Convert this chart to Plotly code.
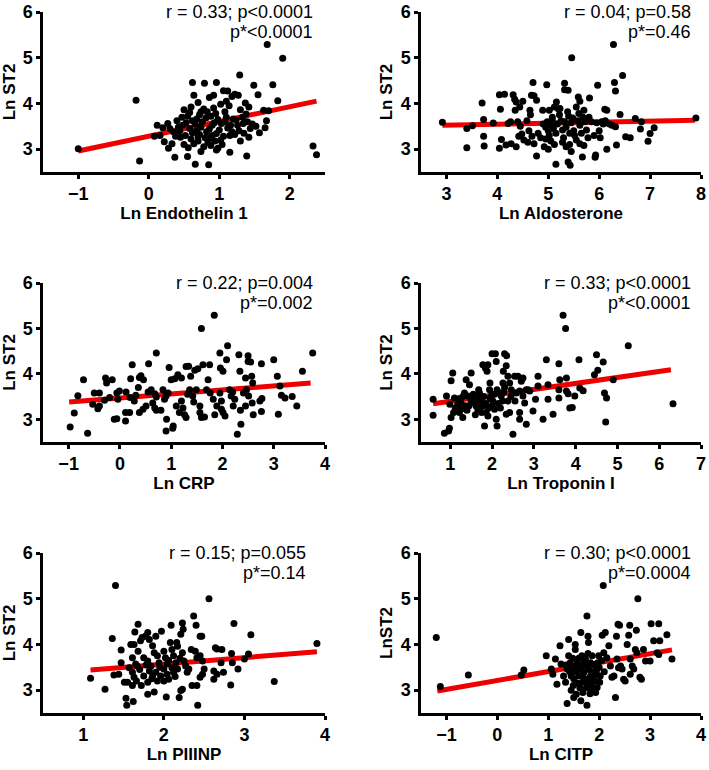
import plotly.graph_objects as go

# ---- data (x, y) ----
endothelin_pts = [
    (-1.0, 3.01), (-0.18, 4.07), (-0.13, 2.74), (1.68, 5.29), (1.90, 4.99), (2.33, 3.07), (2.38, 2.88),
    (1.83, 4.06), (1.76, 4.41), (1.29, 4.62),
    (0.62, 4.46), (0.79, 4.44), (0.96, 4.46), (1.49, 4.40), (1.55, 4.19), (1.06, 4.28), (1.12, 4.27),
    (0.86, 4.13), (0.92, 4.18), (1.18, 4.15), (1.22, 4.20), (1.27, 4.18), (0.70, 4.02), (0.50, 3.86),
    (0.60, 3.92), (1.02, 3.98), (1.14, 3.95), (1.37, 4.01), (1.42, 3.92), (1.63, 3.85), (1.70, 3.84),
    (0.78, 3.88), (0.83, 3.82), (1.30, 3.86),
    (0.12, 3.52), (0.20, 3.47), (0.27, 3.56), (0.35, 3.38), (0.42, 3.48), (0.47, 3.70), (0.55, 3.72),
    (0.62, 3.62), (0.66, 3.55), (0.72, 3.75), (0.76, 3.60), (0.81, 3.68), (0.88, 3.72), (0.93, 3.58),
    (0.98, 3.65), (1.03, 3.56), (1.08, 3.60), (1.10, 3.70), (1.16, 3.52), (1.20, 3.66), (1.24, 3.64),
    (1.33, 3.70), (1.38, 3.77), (1.44, 3.45), (1.47, 3.55), (1.52, 3.50), (1.67, 3.62), (1.65, 3.47),
    (0.58, 3.45), (0.68, 3.40), (0.74, 3.48), (0.86, 3.44), (0.90, 3.52), (1.00, 3.42), (1.12, 3.46),
    (1.28, 3.40), (0.40, 3.62), (0.30, 3.45), (0.53, 3.58), (0.95, 3.78), (1.40, 3.60),
    (0.08, 3.28), (0.16, 3.30), (0.22, 3.16), (0.28, 3.02), (0.33, 3.12), (0.38, 3.28), (0.45, 3.26),
    (0.50, 3.10), (0.52, 3.30), (0.56, 3.03), (0.60, 3.22), (0.64, 3.12), (0.70, 3.18), (0.72, 3.32),
    (0.78, 3.05), (0.80, 3.25), (0.84, 3.15), (0.88, 3.08), (0.90, 3.30), (0.94, 3.18), (0.98, 3.02),
    (1.04, 3.10), (1.06, 3.28), (1.15, 3.30), (1.22, 3.32), (1.30, 3.18), (1.35, 3.35), (1.42, 3.26),
    (1.57, 3.36), (0.37, 2.82), (0.55, 2.84), (0.66, 2.67), (0.85, 2.66), (1.15, 2.93), (1.39, 2.85),
    (0.74, 2.95), (0.96, 2.98), (0.62, 3.36), (0.82, 3.38), (0.96, 3.34), (1.18, 3.38), (0.44, 3.40),
    (1.26, 3.52), (0.68, 3.66), (1.34, 3.56),
    (0.58, 3.80), (0.74, 3.82), (0.92, 3.90), (1.08, 3.82), (0.70, 3.28), (0.86, 3.24), (1.02, 3.20),
    (0.48, 3.52), (1.10, 4.05), (0.64, 4.18),
]
endothelin_fit = [(-1.0, 2.96), (2.38, 4.05)]
endothelin_stats = ["r = 0.33; p<0.0001", "p*<0.0001"]

aldosterone_pts = [
    (2.92, 3.59), (3.40, 3.45), (3.51, 3.51), (3.40, 3.03), (3.70, 4.01), (3.73, 3.65), (3.73, 3.28),
    (3.74, 3.07), (3.92, 3.57), (4.04, 4.19), (4.14, 4.20), (4.06, 3.87), (4.08, 3.21), (4.04, 3.02),
    (4.17, 3.09), (4.21, 3.56), (4.26, 3.60), (4.31, 4.19), (4.34, 4.09), (4.37, 4.03), (4.35, 3.85),
    (4.44, 3.92), (4.50, 4.05), (4.27, 3.12), (4.37, 3.05), (4.42, 3.28), (4.48, 3.33), (4.52, 3.20),
    (4.45, 3.50), (4.58, 3.62), (4.40, 3.60), (4.70, 4.46), (4.67, 4.18), (4.72, 4.17), (4.77, 4.07),
    (4.64, 3.85), (4.65, 3.75), (4.97, 4.41), (4.89, 3.85), (4.77, 2.85), (4.62, 3.40), (4.68, 3.28),
    (4.72, 3.12), (4.80, 3.35), (4.85, 3.25), (4.60, 3.15),
    (4.90, 3.55), (4.95, 3.48), (4.98, 3.60), (5.00, 3.40), (5.02, 3.30), (5.05, 3.52), (5.08, 3.62),
    (5.10, 3.45), (5.05, 3.18), (4.95, 3.22), (4.92, 3.05), (5.00, 3.00), (5.12, 3.10), (5.15, 3.35),
    (5.18, 3.55), (5.20, 3.88), (5.22, 3.75), (5.12, 3.92), (5.02, 3.85), (5.08, 3.70), (5.25, 3.62),
    (5.28, 3.42), (5.30, 3.25), (5.32, 3.60), (5.35, 3.48), (5.38, 3.82), (5.40, 3.72), (5.42, 3.35),
    (5.45, 3.58), (5.48, 3.68), (5.50, 3.40), (5.52, 3.30), (5.55, 3.92), (5.58, 3.62), (5.60, 3.78),
    (5.62, 3.52), (5.65, 3.35), (5.68, 3.70), (5.70, 3.85), (5.72, 3.60), (5.75, 3.42), (5.78, 3.25),
    (5.80, 3.70), (5.42, 3.10), (5.45, 2.95), (5.55, 3.20), (5.62, 3.12), (5.70, 3.08), (5.35, 3.05),
    (5.28, 3.15),
    (5.32, 4.44), (5.32, 4.30), (5.39, 4.29), (5.46, 5.00), (5.16, 4.03), (5.23, 3.89), (5.15, 2.67),
    (5.39, 2.72), (5.43, 2.65), (5.59, 4.14), (5.62, 4.05), (5.81, 4.12), (5.97, 4.40), (5.67, 2.83),
    (5.93, 2.87), (5.92, 2.82), (5.85, 3.60), (5.90, 3.30), (5.95, 3.58), (6.02, 3.25), (6.05, 3.60),
    (6.08, 3.55), (6.12, 3.62), (6.00, 3.40), (6.20, 3.55), (6.25, 3.52),
    (6.28, 5.29), (6.30, 4.46), (6.32, 4.27), (6.46, 4.61), (6.11, 3.87), (6.15, 3.85), (6.41, 3.76),
    (6.32, 3.49), (6.34, 3.09), (6.15, 3.00), (6.52, 3.27), (6.61, 3.25), (6.71, 3.67), (6.83, 3.60),
    (6.81, 3.44), (6.96, 3.17), (7.00, 3.34), (7.08, 3.47), (7.90, 3.68),
]
aldosterone_fit = [(2.92, 3.52), (7.88, 3.63)]
aldosterone_stats = ["r = 0.04; p=0.58", "p*=0.46"]

crp_pts = [
    (-0.97, 2.83), (-0.89, 3.14), (-0.82, 3.52), (-0.71, 3.87), (-0.63, 2.69), (-0.53, 3.33),
    (-0.50, 3.58), (-0.40, 3.58), (-0.43, 3.23), (-0.40, 3.29), (-0.28, 3.91), (-0.26, 3.80),
    (-0.30, 3.42), (-0.15, 3.87), (-0.11, 3.00), (-0.06, 3.01), (-0.04, 3.44), (-0.01, 3.62),
    (-0.06, 3.58), (0.11, 2.96), (0.11, 3.15), (0.19, 3.15), (0.21, 3.89), (0.24, 4.20), (0.28, 3.40),
    (0.31, 3.53), (0.38, 3.92), (0.41, 3.96), (0.46, 3.87), (0.36, 3.70), (0.38, 3.15), (0.45, 3.22),
    (0.51, 3.29), (0.56, 4.22), (0.71, 4.46), (0.55, 3.60), (0.61, 3.65), (0.68, 3.56), (0.71, 3.49),
    (0.64, 3.36), (0.68, 3.25), (0.71, 3.20), (0.84, 3.65), (0.87, 3.44), (0.90, 3.51), (0.94, 3.58),
    (0.96, 4.14), (1.00, 3.87), (0.90, 2.74), (0.91, 3.00), (1.03, 2.80), (1.04, 2.85), (1.07, 3.89),
    (1.13, 3.98), (1.20, 3.91), (1.10, 3.29), (1.16, 3.15), (1.23, 3.25), (1.26, 3.10), (1.29, 3.04),
    (1.29, 4.16), (1.34, 4.17), (1.38, 3.95), (1.36, 3.65), (1.42, 3.51), (1.49, 3.65), (1.46, 4.08),
    (1.52, 4.11), (1.56, 3.15), (1.59, 3.04), (1.56, 3.29), (1.62, 4.20), (1.59, 5.00), (1.69, 3.65),
    (1.76, 3.58), (1.82, 3.44), (1.89, 3.29), (1.72, 3.87), (1.75, 4.20), (1.84, 5.29), (1.95, 4.46),
    (1.96, 4.13), (2.01, 4.06), (2.10, 4.62), (2.08, 4.31), (1.95, 3.58), (1.98, 3.40), (2.01, 3.15),
    (1.98, 3.22), (2.05, 3.07), (2.14, 3.65), (2.17, 3.51), (2.21, 3.29), (2.24, 3.44), (2.32, 4.42),
    (2.34, 4.06), (2.36, 2.89), (2.29, 2.67), (2.50, 4.40), (2.50, 4.27), (2.55, 4.26), (2.45, 3.91),
    (2.47, 3.65), (2.41, 3.58), (2.51, 3.51), (2.58, 3.36), (2.45, 3.29), (2.57, 3.95), (2.59, 3.80),
    (2.76, 4.22), (2.77, 3.46), (2.73, 3.40), (2.76, 3.17), (3.00, 4.31), (3.07, 3.95), (3.12, 3.73),
    (3.09, 3.11), (3.15, 3.53), (3.22, 3.47), (3.36, 3.50), (3.45, 3.29), (3.56, 4.06), (3.76, 4.46),
    (1.20, 3.40), (1.32, 3.55), (1.44, 3.38), (0.20, 3.48), (0.12, 3.60), (-0.20, 3.48), (0.80, 3.20),
    (2.20, 3.60), (2.35, 3.20), (2.60, 3.10), (1.65, 3.05), (1.85, 3.10),
]
crp_fit = [(-0.99, 3.38), (3.72, 3.80)]
crp_stats = ["r = 0.22; p=0.004", "p*=0.002"]

troponin_pts = [
    (0.59, 3.44), (0.59, 3.09), (0.86, 2.69), (0.96, 2.74), (0.98, 2.80), (0.91, 3.51), (1.06, 4.02),
    (1.02, 3.85), (0.99, 3.33), (1.02, 3.04), (1.08, 3.15), (1.10, 3.47), (1.18, 3.33), (1.22, 3.15),
    (1.26, 3.22), (1.30, 3.04), (1.38, 3.87), (1.46, 3.76), (1.50, 4.02), (1.34, 3.58), (1.42, 3.51),
    (1.54, 3.47), (1.58, 3.36), (1.62, 3.29), (1.66, 3.22), (1.70, 3.58), (1.74, 3.40), (1.78, 4.20),
    (1.84, 4.13), (1.90, 4.20), (1.88, 4.06), (1.78, 3.29), (1.86, 3.15), (1.90, 3.07), (1.82, 2.85),
    (1.94, 3.65), (1.98, 3.51), (2.02, 3.40), (1.95, 3.80), (2.00, 4.44), (2.08, 4.44), (2.10, 4.27),
    (2.06, 3.22), (2.10, 3.00), (2.12, 2.85), (2.18, 3.58), (2.22, 3.51), (2.26, 3.80), (2.27, 4.06),
    (2.30, 4.44), (2.35, 4.40), (2.34, 4.18), (2.38, 3.95), (2.42, 3.80), (2.46, 3.65), (2.38, 3.40),
    (2.34, 3.11), (2.42, 3.15), (2.50, 2.67), (2.54, 3.95), (2.62, 3.95), (2.70, 3.84), (2.74, 3.91),
    (2.58, 3.58), (2.66, 3.62), (2.74, 3.51), (2.78, 3.36), (2.66, 3.15), (2.66, 3.00), (2.82, 3.65),
    (2.86, 3.65), (2.90, 3.62), (2.82, 2.89), (2.98, 3.18), (3.04, 3.44), (3.10, 3.95), (3.10, 3.73),
    (3.30, 4.31), (3.34, 3.44), (3.34, 3.76), (3.22, 3.00), (3.46, 3.11), (3.60, 4.22), (3.62, 3.87),
    (3.60, 3.47), (3.60, 3.65), (3.70, 5.29), (3.76, 5.00), (3.78, 3.91), (3.78, 3.62), (3.82, 3.56),
    (3.86, 3.25), (3.92, 3.26), (3.98, 3.51), (4.08, 4.31), (4.10, 3.69), (4.18, 3.63), (4.45, 3.98),
    (4.50, 4.42), (4.53, 4.08), (4.66, 4.26), (4.69, 3.58), (4.74, 3.47), (4.72, 2.94), (4.90, 3.87),
    (5.26, 4.62), (6.33, 3.34),
    (1.20, 3.45), (1.30, 3.50), (1.45, 3.30), (1.55, 3.55), (1.65, 3.45), (1.72, 3.30), (1.80, 3.50),
    (1.85, 3.35), (1.92, 3.25), (2.00, 3.30), (2.05, 3.55), (2.15, 3.35), (2.20, 3.25), (2.28, 3.60),
    (1.60, 3.10), (1.40, 3.20), (1.12, 3.25), (2.45, 3.50), (2.55, 3.40), (2.30, 3.70),
    (1.25, 3.38), (1.50, 3.40), (1.68, 3.65), (1.95, 3.45), (2.12, 3.65), (1.75, 3.15), (2.25, 3.40),
    (1.35, 3.30),
]
troponin_fit = [(0.59, 3.34), (6.28, 4.09)]
troponin_stats = ["r = 0.33; p<0.0001", "p*<0.0001"]

piiinp_pts = [
    (1.09, 3.26), (1.27, 3.02), (1.36, 4.13), (1.40, 5.29), (1.38, 3.33), (1.44, 3.35), (1.47, 3.88),
    (1.47, 3.60), (1.53, 2.82), (1.54, 2.67), (1.62, 2.75), (1.51, 3.17), (1.55, 3.17), (1.57, 3.49),
    (1.59, 4.00), (1.63, 4.00), (1.68, 4.44), (1.64, 4.27), (1.61, 3.71), (1.65, 3.57), (1.67, 3.53),
    (1.61, 3.39), (1.63, 3.28), (1.66, 3.20), (1.61, 3.10), (1.71, 4.08), (1.73, 4.15), (1.80, 4.26),
    (1.77, 4.18), (1.82, 4.11), (1.75, 3.71), (1.80, 3.64), (1.84, 3.53), (1.82, 3.42), (1.75, 3.31),
    (1.80, 3.17), (1.80, 2.91), (1.88, 2.96), (1.86, 3.97), (1.90, 4.18), (1.88, 3.82), (1.92, 3.75),
    (1.94, 3.60), (1.90, 3.39), (1.96, 3.31), (1.92, 3.20), (1.86, 3.31), (1.97, 4.29), (2.00, 3.85),
    (2.02, 3.71), (2.04, 3.57), (2.00, 3.46), (2.04, 3.35), (2.06, 3.24), (2.03, 2.85), (2.08, 4.04),
    (2.09, 4.42), (2.10, 3.89), (2.12, 3.75), (2.15, 3.60), (2.10, 3.49), (2.12, 3.39), (2.17, 3.46),
    (2.17, 3.96), (2.16, 4.04), (2.21, 4.22), (2.23, 4.47), (2.24, 4.33), (2.19, 2.84), (2.23, 3.02),
    (2.21, 2.99), (2.23, 3.82), (2.25, 3.64), (2.27, 3.53), (2.29, 3.39), (2.31, 3.46), (2.37, 4.62),
    (2.40, 4.42), (2.34, 3.89), (2.39, 3.85), (2.41, 3.71), (2.35, 3.10), (2.41, 3.10), (2.42, 2.67),
    (2.45, 4.18), (2.47, 4.18), (2.45, 3.75), (2.48, 3.64), (2.45, 3.28), (2.48, 3.35), (2.50, 3.46),
    (2.56, 5.00), (2.64, 3.93), (2.66, 3.90), (2.62, 3.42), (2.66, 3.35), (2.62, 3.24), (2.72, 3.89),
    (2.71, 3.60), (2.74, 3.39), (2.83, 3.11), (2.84, 3.80), (2.85, 3.60), (2.87, 4.46), (2.92, 3.46),
    (3.00, 3.68), (3.05, 3.79), (3.08, 4.21), (3.37, 3.19), (3.90, 4.02),
    (1.70, 3.45), (1.78, 3.55), (1.85, 3.25), (1.95, 3.50), (2.06, 3.65), (2.14, 3.30), (2.20, 3.70),
    (1.72, 3.10), (1.68, 3.85), (2.00, 3.20),
]
piiinp_fit = [(1.09, 3.44), (3.90, 3.84)]
piiinp_stats = ["r = 0.15; p=0.055", "p*=0.14"]

citp_pts = [
    (-1.20, 4.15), (-1.12, 3.08), (-0.57, 3.33), (0.47, 3.33), (0.52, 3.44), (0.96, 3.75), (1.06, 3.46),
    (1.09, 3.35), (1.14, 3.68), (1.17, 3.13), (1.23, 3.97), (1.25, 3.57), (1.30, 3.31), (1.34, 3.17),
    (1.37, 3.46), (1.40, 4.11), (1.37, 2.71), (1.50, 2.84), (1.40, 3.75), (1.43, 3.60), (1.45, 3.31),
    (1.49, 3.10), (1.47, 3.46), (1.53, 4.00), (1.53, 3.89), (1.55, 2.91), (1.64, 2.77), (1.57, 3.60),
    (1.60, 3.31), (1.63, 3.53), (1.66, 3.75), (1.68, 3.17), (1.70, 3.39), (1.64, 4.26), (1.76, 4.62),
    (1.78, 4.18), (1.79, 4.04), (1.76, 2.67), (1.73, 3.68), (1.76, 3.53), (1.83, 3.31), (1.79, 3.17),
    (1.86, 3.02), (1.89, 2.99), (1.83, 3.60), (1.86, 3.75), (1.93, 2.95), (1.96, 3.06), (1.96, 3.46),
    (1.97, 3.60), (2.02, 3.31), (2.01, 3.17), (1.99, 3.75), (2.08, 5.29), (2.12, 4.26), (2.06, 4.20),
    (2.09, 3.82), (2.15, 3.71), (2.19, 3.97), (2.22, 3.53), (2.25, 3.28), (2.29, 3.31), (2.32, 2.84),
    (2.34, 4.18), (2.37, 4.44), (2.40, 4.42), (2.35, 3.68), (2.38, 3.49), (2.42, 3.53), (2.45, 3.46),
    (2.48, 3.24), (2.51, 3.20), (2.55, 4.00), (2.60, 4.42), (2.58, 4.20), (2.61, 3.68), (2.65, 3.53),
    (2.68, 3.46), (2.61, 3.35), (2.73, 4.31), (2.76, 5.00), (2.71, 3.89), (2.74, 3.82), (2.80, 3.28),
    (2.83, 3.24), (2.87, 3.89), (2.91, 3.64), (3.00, 3.64), (3.02, 4.45), (3.07, 4.08), (3.17, 4.45),
    (3.19, 4.08), (3.14, 3.82), (3.17, 3.78), (3.33, 4.21), (3.43, 3.68),
    (1.55, 3.40), (1.65, 3.45), (1.72, 3.25), (1.80, 3.45), (1.88, 3.40), (1.92, 3.20), (1.70, 3.60),
    (1.60, 3.70), (1.50, 3.25), (1.85, 3.10), (2.00, 3.50), (1.45, 3.00), (1.62, 3.05),
    (1.35, 3.55), (1.42, 3.40), (1.48, 3.70), (1.58, 3.15), (1.67, 3.30), (1.75, 3.05), (1.82, 2.92),
    (1.90, 3.55), (1.95, 3.35), (2.05, 3.65), (1.78, 3.80), (1.52, 3.52), (1.68, 2.95), (1.88, 3.25),
    (2.10, 3.40),
]
citp_fit = [(-1.18, 2.98), (3.43, 3.88)]
citp_stats = ["r = 0.30; p<0.0001", "p*=0.0004"]

# (points, fit, x title, y title, stats, x range, x ticks)
panels = [
    (endothelin_pts, endothelin_fit, "Ln Endothelin 1", "Ln ST2", endothelin_stats, [-1.5, 2.5], [-1, 0, 1, 2]),
    (aldosterone_pts, aldosterone_fit, "Ln Aldosterone", "Ln ST2", aldosterone_stats, [2.5, 8], [3, 4, 5, 6, 7, 8]),
    (crp_pts, crp_fit, "Ln CRP", "Ln ST2", crp_stats, [-1.5, 4], [-1, 0, 1, 2, 3, 4]),
    (troponin_pts, troponin_fit, "Ln Troponin I", "Ln ST2", troponin_stats, [0.3, 7], [1, 2, 3, 4, 5, 6, 7]),
    (piiinp_pts, piiinp_fit, "Ln PIIINP", "Ln ST2", piiinp_stats, [0.5, 4], [1, 2, 3, 4]),
    (citp_pts, citp_fit, "Ln CITP", "LnST2", citp_stats, [-1.5, 4], [-1, 0, 1, 2, 3, 4]),
]

W, H = 709, 770
col_px = [(43, 325), (421, 701)]
row_px = [(12, 172), (283, 442), (553, 713)]
stat_x = [0.965, 0.97, 0.965, 0.97, 0.94, 0.97]

FONT = "Arial, Liberation Sans, sans-serif"

fig = go.Figure()
layout = dict(
    width=W, height=H, autosize=False,
    margin=dict(l=0, r=0, t=0, b=0, pad=0),
    plot_bgcolor="white", paper_bgcolor="white",
    showlegend=False,
    font=dict(family=FONT, color="black"),
    annotations=[],
)

for i, (pts, fit, xt, yt, stats, xr, xticks) in enumerate(panels):
    n = i + 1
    xs, ys = zip(*pts)
    fx, fy = zip(*fit)
    xa = "x" if n == 1 else f"x{n}"
    ya = "y" if n == 1 else f"y{n}"
    fig.add_trace(go.Scatter(x=fx, y=fy, mode="lines", xaxis=xa, yaxis=ya,
                             line=dict(color="#ee0000", width=5), hoverinfo="skip"))
    fig.add_trace(go.Scatter(x=xs, y=ys, mode="markers", xaxis=xa, yaxis=ya,
                             marker=dict(color="black", size=7, line=dict(width=0))))

    c, r = i % 2, i // 2
    x0, x1 = col_px[c]
    y0, y1 = row_px[r]
    axis_common = dict(
        showline=True, linecolor="black", linewidth=2.5,
        ticks="outside", ticklen=4, tickwidth=2.5, tickcolor="black",
        showgrid=False, zeroline=False, automargin=False,
        tickfont=dict(family=FONT, size=18, color="black", weight="bold"),
        title_font=dict(family=FONT, size=17, color="black", weight="bold"),
    )
    layout["xaxis" if n == 1 else f"xaxis{n}"] = dict(
        axis_common, domain=[x0 / W, x1 / W], anchor=ya, range=xr,
        tickvals=xticks, title=dict(text=xt, standoff=2),
    )
    layout["yaxis" if n == 1 else f"yaxis{n}"] = dict(
        axis_common, domain=[1 - y1 / H, 1 - y0 / H], anchor=xa, range=[2.5, 6],
        tickvals=[3, 4, 5, 6], title=dict(text=yt, standoff=4),
    )
    for k, (txt, yy) in enumerate(zip(stats, [1.0, 0.875])):
        layout["annotations"].append(dict(
            text=txt, xref=f"{xa} domain", yref=f"{ya} domain", x=stat_x[i], y=yy,
            xanchor="right", yanchor="middle", showarrow=False,
            font=dict(family=FONT, size=18, color="black"),
        ))

fig.update_layout(layout)
# the page body has a default 8px margin; drop it so the figure sits at the window origin
fig.write_html("out.html", config={"displayModeBar": False},
               post_script="document.body.style.margin = '0';")
